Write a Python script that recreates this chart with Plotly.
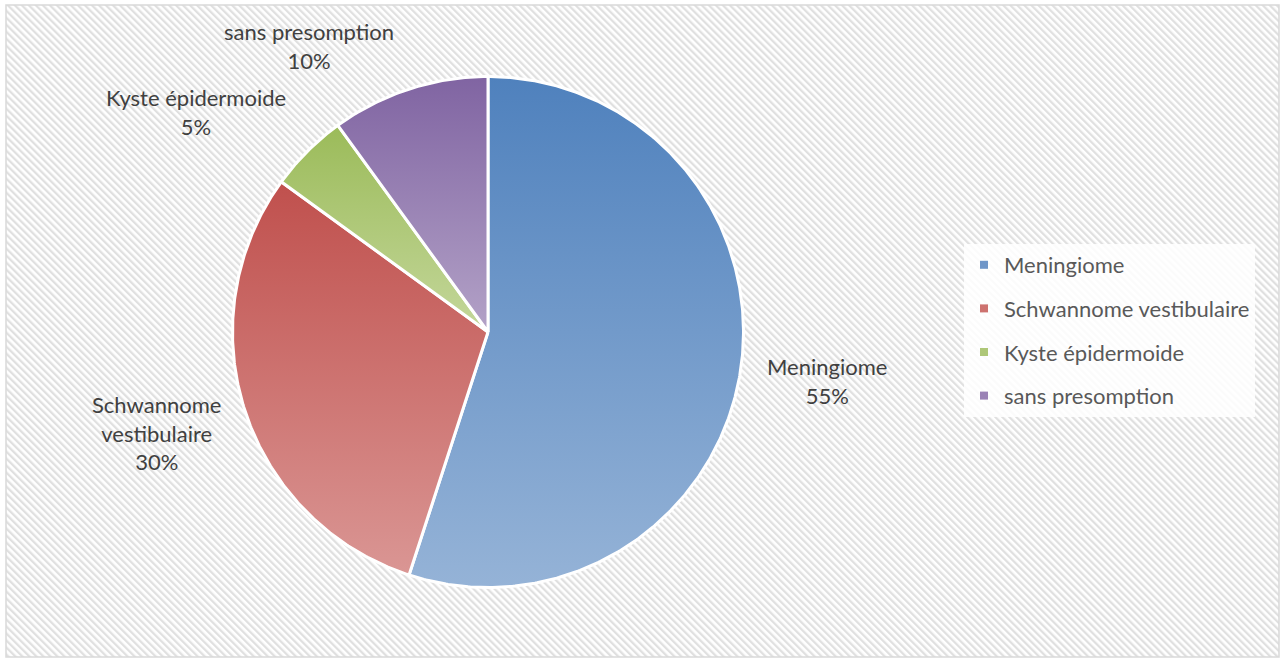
import base64
import numpy as np
import plotly.graph_objects as go

# ---------------- data ----------------
categories = ["Meningiome", "Schwannome vestibulaire", "Kyste épidermoide", "sans presomption"]
values = [55, 30, 5, 10]
label_names = ["Meningiome", "Schwannome<br>vestibulaire", "Kyste épidermoide", "sans presomption"]

# ---------------- styles ----------------
dark_colors = ["#4F81BD", "#C0504D", "#9BBB59", "#8064A2"]
light_colors = ["#95B3D7", "#DA9694", "#C4D79B", "#B3A2C7"]
mid_colors = ["#6F96C8", "#CD726F", "#AEC778", "#9A82B5"]
label_radius = [1.34, 1.355, 1.43, 1.32]
label_angle_nudge = [0.7, -1.0, 8.0, 14.0]   # degrees

W, H = 1284, 659
CX, CY, R = 488, 332, 255.5   # pie centre / radius in pixels
FONT = "Lato"

x_range = [-CX / R, (W - CX) / R]
y_range = [-(H - CY) / R, CY / R]

fig = go.Figure()

total = sum(values)
cum = np.cumsum([0] + values) / total
for i, name in enumerate(categories):
    a, b = cum[i], cum[i + 1]
    t = np.linspace(a, b, max(int((b - a) * 720), 8))
    theta = np.deg2rad(90 - 360 * t)
    xs = np.concatenate([[0], np.cos(theta), [0]])
    ys = np.concatenate([[0], np.sin(theta), [0]])
    fig.add_trace(go.Scatter(
        x=xs, y=ys, mode="lines", fill="toself",
        line=dict(color="white", width=3),
        fillgradient=dict(type="vertical",
                          colorscale=[[0, light_colors[i]], [1, dark_colors[i]]]),
        hoverinfo="skip", showlegend=False,
    ))
    # legend proxy
    fig.add_trace(go.Scatter(
        x=[None], y=[None], mode="markers", name=name, legendgroup=name,
        marker=dict(symbol="square", size=8, color=mid_colors[i]),
    ))
    # data label
    mid = 90 - 360 * (a + b) / 2 + label_angle_nudge[i]
    lx = label_radius[i] * np.cos(np.deg2rad(mid))
    ly = label_radius[i] * np.sin(np.deg2rad(mid))
    pct = round(values[i] / total * 100)
    fig.add_annotation(x=lx, y=ly, xref="x", yref="y", showarrow=False,
                       text=f"{label_names[i]}<br>{pct}%",
                       font=dict(family=FONT, size=22, color="#404040"),
                       xanchor="center", yanchor="middle", align="center")

# hatched background
svg = f'''<svg xmlns="http://www.w3.org/2000/svg" width="{W}" height="{H}">
<defs><pattern id="p" patternUnits="userSpaceOnUse" width="5" height="5" patternTransform="rotate(-45)">
<rect width="5" height="5" fill="#FFFFFF"/><rect width="2.3" height="5" fill="#E0E0E0"/></pattern></defs>
<rect x="0" y="0" width="{W}" height="{H}" fill="url(#p)"/></svg>'''
src = "data:image/svg+xml;base64," + base64.b64encode(svg.encode()).decode()
bx0, by0, bx1, by1 = 6, 5, 1279, 657
fig.add_layout_image(dict(source=src, xref="paper", yref="paper",
                          x=bx0 / W, y=1 - by0 / H, sizex=(bx1 - bx0) / W, sizey=(by1 - by0) / H,
                          sizing="stretch", layer="below", xanchor="left", yanchor="top"))
fig.add_shape(type="rect", xref="paper", yref="paper",
              x0=bx0 / W, x1=bx1 / W, y0=1 - by1 / H, y1=1 - by0 / H,
              line=dict(color="#D9D9D9", width=1.5), layer="below")

fig.update_layout(
    width=W, height=H, margin=dict(l=0, r=0, t=0, b=0),
    paper_bgcolor="white", plot_bgcolor="rgba(0,0,0,0)",
    xaxis=dict(range=x_range, visible=False, fixedrange=True),
    yaxis=dict(range=y_range, visible=False, fixedrange=True),
    showlegend=True,
    legend=dict(x=964 / W, y=1 - 244 / H, xanchor="left", yanchor="top",
                bgcolor="rgba(255,255,255,0.85)", tracegroupgap=12,
                font=dict(family=FONT, size=22, color="#595959")),
    font=dict(family=FONT),
)
fig.write_html("out.html", config={"displayModeBar": False},
               post_script="document.body.style.margin='0px';")
